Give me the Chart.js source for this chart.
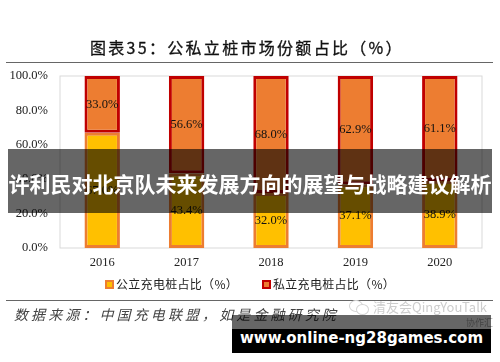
<!DOCTYPE html>
<html>
<head>
<meta charset="utf-8">
<script src="https://cdn.jsdelivr.net/npm/chart.js@4"></script>
<style>
  html, body { margin: 0; padding: 0; background: #fff; }
  #page { position: relative; width: 500px; height: 362px; overflow: hidden; }
  #page div { position: absolute; white-space: nowrap; }
  canvas { position: absolute; left: 0; top: 0; filter: blur(0.35px); }
  #title { left: 90px; top: 35px; font: 16px "Noto Sans CJK SC"; color: #111; letter-spacing: 2.3px; -webkit-text-stroke: 0.3px #111; }
  .rule { left: 6px; width: 487px; height: 1px; background: #666; }
  #source { left: 14px; top: 304px; font: italic 14px "Noto Sans CJK SC"; color: #444; letter-spacing: 3.1px; }
  #mark { left: 373px; top: 297px; font: 13px "Noto Sans CJK SC"; color: #cdcdcd; }
  .wechat { border: 1px solid #d4d4d4; border-radius: 50%; background: #fff; }
  #faint { left: 466px; top: 316px; font: 9px "Noto Sans CJK SC"; color: #a9a9a9; }
  #band { left: 8px; top: 149px; width: 484px; height: 64px; background: rgba(0,0,0,.6); }
  #headline { left: 8px; width: 484px; top: 168px; text-align: center; font: bold 21px "Noto Sans CJK SC"; color: #fff; }
  #urlbox { left: 232px; top: 315px; width: 259px; height: 14px; background: rgba(0,0,0,.6); }
  #url { left: 232px; top: 329px; width: 259px; height: 24px; line-height: 16px; background: #000; color: #fff; text-align: center; font: bold 15px "DejaVu Sans"; }
  .key { top: 275px; font: 12px "Noto Sans CJK SC"; color: #222; letter-spacing: 0.3px; }
  .swatch { top: 280px; width: 5px; height: 5px; border-width: 2px; border-style: solid; }
</style>
</head>
<body>
<div id="page">
  <canvas id="chart" width="500" height="279"></canvas>
  <div id="title">图表35：公私立桩市场份额占比（%）</div>
  <div class="rule" style="top:62px"></div>
  <div class="swatch" style="left:105px; background:#FFC000; border-color:#ED7D31"></div>
  <div class="key" id="key1" style="left:116px"></div>
  <div class="swatch" style="left:262px; background:#ED7D31; border-color:#C00000"></div>
  <div class="key" id="key2" style="left:273px"></div>
  <div class="rule" style="top:300px"></div>
  <div id="source">数据来源：中国充电联盟，如是金融研究院</div>
  <div class="wechat" style="left:349px; top:300px; width:12px; height:10px"></div>
  <div class="wechat" style="left:356px; top:304px; width:11px; height:9px"></div>
  <div id="mark">清友会QingYouTalk</div>
  <div id="band"></div>
  <div id="headline">许利民对北京队未来发展方向的展望与战略建议解析</div>
  <div id="faint">协作汇</div>
  <div id="urlbox"></div>
  <div id="url">www.online-ng28games.com</div>
</div>
<script>
const years = ['2016', '2017', '2018', '2019', '2020'];
const publicShare = [67.0, 43.4, 32.0, 37.1, 38.9];
const privateShare = [33.0, 56.6, 68.0, 62.9, 61.1];
const publicName = '公立充电桩占比（%）';
const privateName = '私立充电桩占比（%）';

document.getElementById('key1').textContent = publicName;
document.getElementById('key2').textContent = privateName;

// frame round the plot and the value labels
const extras = {
  id: 'extras',
  beforeDatasetsDraw(chart) {
    const a = chart.chartArea, ctx = chart.ctx;
    ctx.save();
    ctx.strokeStyle = '#d9d9d9';
    ctx.lineWidth = 1;
    ctx.strokeRect(a.left, a.top, a.right - a.left, a.bottom - a.top);
    ctx.restore();
  },
  afterDatasetsDraw(chart) {
    const ctx = chart.ctx;
    ctx.save();
    ctx.font = '12.5px "Liberation Serif"';
    ctx.fillStyle = '#111';
    ctx.textAlign = 'center';
    ctx.textBaseline = 'middle';
    chart.data.datasets.forEach((ds, i) => {
      chart.getDatasetMeta(i).data.forEach((bar, j) => {
        const p = bar.getProps(['x', 'y', 'base'], true);
        ctx.fillText(ds.data[j].toFixed(1) + '%', p.x, (p.y + p.base) / 2);
      });
    });
    ctx.restore();
  }
};

new Chart(document.getElementById('chart'), {
  type: 'bar',
  data: {
    labels: years,
    datasets: [
      { label: publicName, data: publicShare, backgroundColor: '#FFC000', borderColor: '#ED7D31', borderWidth: 3, borderSkipped: false },
      { label: privateName, data: privateShare, backgroundColor: '#ED7D31', borderColor: '#C00000', borderWidth: 3, borderSkipped: false }
    ]
  },
  options: {
    responsive: false,
    animation: false,
    layout: { padding: { left: 10, right: 18, top: 76, bottom: 2 } },
    datasets: { bar: { barPercentage: 0.42, categoryPercentage: 1 } },
    scales: {
      x: {
        stacked: true,
        grid: { display: false, drawTicks: false },
        border: { display: false },
        ticks: { color: '#222', font: { family: 'Liberation Serif', size: 12.5 }, padding: 7 }
      },
      y: {
        stacked: true,
        min: 0,
        max: 100,
        afterFit(s) { s.width = 50; },
        grid: { display: false },
        border: { display: false },
        ticks: { stepSize: 20, color: '#222', padding: 4, font: { family: 'Liberation Serif', size: 12.5 }, callback: v => v.toFixed(1) + '%' }
      }
    },
    plugins: {
      tooltip: { enabled: false },
      legend: { display: false }
    }
  },
  plugins: [extras]
});
</script>
</body>
</html>
